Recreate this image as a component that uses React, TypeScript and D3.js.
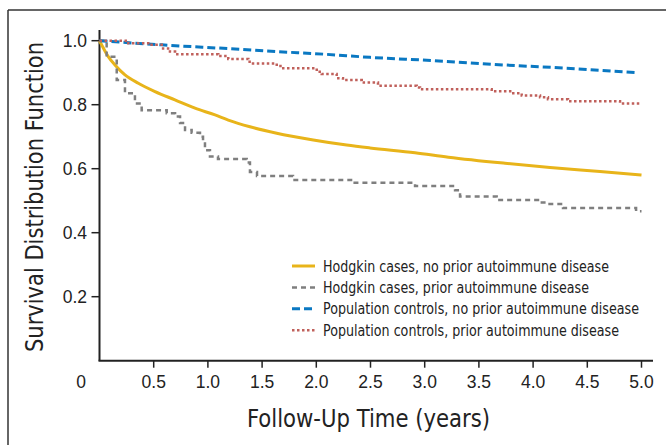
import React from "react";
import * as d3 from "d3";

// ---- Data ----
const yTicks = [0.2, 0.4, 0.6, 0.8, 1.0];
const xTicks = [0.5, 1.0, 1.5, 2.0, 2.5, 3.0, 3.5, 4.0, 4.5, 5.0];

// Hodgkin cases, no prior autoimmune disease (solid gold)
const hodgkinNoPriorT = [0, 0.02, 0.081, 0.143, 0.235, 0.358, 0.512, 0.696, 0.881, 1.066, 1.188, 1.388, 1.635, 1.972, 2.28, 2.495, 2.911, 3.218, 3.741, 4.156, 4.617, 5.0];
const hodgkinNoPriorS = [1.0, 0.987, 0.95, 0.924, 0.893, 0.867, 0.841, 0.815, 0.789, 0.768, 0.752, 0.731, 0.711, 0.69, 0.674, 0.665, 0.65, 0.636, 0.617, 0.604, 0.591, 0.58];

// Hodgkin cases, prior autoimmune disease (gray dashed)
const hodgkinPriorT = [0, 0.066, 0.159, 0.235, 0.327, 0.389, 0.62, 0.697, 0.743, 0.789, 0.85, 0.927, 0.955, 0.973, 1.019, 1.093, 1.358, 1.388, 1.453, 1.785, 2.339, 2.911, 3.28, 3.326, 3.664, 4.045, 4.128, 4.276, 4.95, 5.0];
const hodgkinPriorS = [1.0, 0.95, 0.877, 0.836, 0.804, 0.783, 0.773, 0.763, 0.743, 0.721, 0.712, 0.70, 0.684, 0.658, 0.638, 0.63, 0.619, 0.59, 0.577, 0.565, 0.556, 0.546, 0.533, 0.513, 0.502, 0.494, 0.49, 0.477, 0.467, 0.467];

// Population controls, no prior autoimmune disease (blue dashed)
const controlsNoPriorT = [0, 0.574, 1.25, 1.635, 2.065, 2.495, 3.065, 3.741, 4.31, 4.956];
const controlsNoPriorS = [1.0, 0.987, 0.974, 0.966, 0.958, 0.948, 0.938, 0.924, 0.914, 0.9];

// Population controls, prior autoimmune disease (red dotted)
const controlsPriorT = [0, 0.266, 0.45, 0.574, 0.65, 0.697, 1.096, 1.188, 1.373, 1.416, 1.635, 1.681, 2.004, 2.05, 2.188, 2.246, 2.419, 2.569, 2.926, 2.957, 3.618, 3.803, 3.895, 4.064, 4.137, 4.322, 4.802, 4.986];
const controlsPriorS = [1.0, 0.992, 0.987, 0.976, 0.966, 0.958, 0.952, 0.943, 0.934, 0.929, 0.921, 0.914, 0.903, 0.896, 0.883, 0.877, 0.869, 0.859, 0.854, 0.848, 0.842, 0.836, 0.829, 0.823, 0.817, 0.811, 0.804, 0.804];

const legendLabels = [
  "Hodgkin cases, no prior autoimmune disease",
  "Hodgkin cases, prior autoimmune disease",
  "Population controls, no prior autoimmune disease",
  "Population controls, prior autoimmune disease",
];
const legendTextLengths = [286, 266, 316, 296];

const W = 666;
const H = 445;
const narrow = "'Liberation Sans Narrow', 'DejaVu Sans Condensed', 'Arial Narrow', sans-serif";
const normal = "'Liberation Sans', Arial, Helvetica, sans-serif";

export default function App() {
  const x = d3.scaleLinear().domain([0, 5]).range([99.5, 641.5]);
  const y = d3.scaleLinear().domain([0, 1]).range([360.7, 40.7]);

  const series = [
    { t: hodgkinNoPriorT, s: hodgkinNoPriorS, color: "#E8B41A", width: 3, dash: "", step: false },
    { t: hodgkinPriorT, s: hodgkinPriorS, color: "#7F7F7F", width: 2.5, dash: "5,4", step: true },
    { t: controlsNoPriorT, s: controlsNoPriorS, color: "#0A78C2", width: 3, dash: "8,4", step: false },
    { t: controlsPriorT, s: controlsPriorS, color: "#C0605B", width: 2.5, dash: "2.5,2.5", step: true },
  ];

  const mkLine = (step: boolean) =>
    d3
      .line<[number, number]>()
      .x((d) => x(d[0]))
      .y((d) => y(d[1]))
      .curve(step ? d3.curveStepAfter : d3.curveMonotoneX);

  const x0 = x(0);
  const yBase = y(0);

  return (
    <svg width={W} height={H} style={{ display: "block", position: "absolute", left: 0, top: 0 }}>
      <rect x={0} y={0} width={W} height={H} fill="#fff" />
      {/* frame */}
      <line x1={8} y1={10} x2={W} y2={10} stroke="#333" strokeWidth={1.5} />
      <line x1={8} y1={10} x2={8} y2={H} stroke="#333" strokeWidth={1.5} />

      {/* axes */}
      <line x1={x0} y1={30} x2={x0} y2={yBase} stroke="#222" strokeWidth={2} />
      <line x1={x0 - 1} y1={yBase} x2={653} y2={yBase} stroke="#222" strokeWidth={2} />

      {yTicks.map((v) => (
        <g key={"y" + v}>
          <line x1={x0 - 8} x2={x0} y1={y(v)} y2={y(v)} stroke="#222" strokeWidth={1.5} />
          <text x={87} y={y(v) + 6} textAnchor="end" fontFamily={normal} fontSize={17.5} fill="#222">
            {v.toFixed(1)}
          </text>
        </g>
      ))}
      {xTicks.map((v) => (
        <g key={"x" + v}>
          <line x1={x(v)} x2={x(v)} y1={yBase} y2={yBase + 7} stroke="#222" strokeWidth={1.5} />
          <text x={x(v)} y={388} textAnchor="middle" fontFamily={normal} fontSize={17.5} fill="#222">
            {v.toFixed(1)}
          </text>
        </g>
      ))}
      <text x={81} y={388} textAnchor="middle" fontFamily={normal} fontSize={17.5} fill="#222">
        0
      </text>

      {/* axis titles */}
      <text
        transform={`translate(43,197) rotate(-90)`}
        textAnchor="middle"
        fontFamily={narrow}
        fontSize={24}
        fill="#222"
        textLength={310}
        lengthAdjust="spacingAndGlyphs"
      >
        Survival Distribution Function
      </text>
      <text
        x={368.5}
        y={427}
        textAnchor="middle"
        fontFamily={narrow}
        fontSize={24}
        fill="#222"
        textLength={243}
        lengthAdjust="spacingAndGlyphs"
      >
        Follow-Up Time (years)
      </text>

      {/* series */}
      {series.map((sr, i) => {
        const pts: [number, number][] = sr.t.map((t, k) => [t, sr.s[k]]);
        return (
          <path
            key={"s" + i}
            d={mkLine(sr.step)(pts) || ""}
            fill="none"
            stroke={sr.color}
            strokeWidth={sr.width}
            strokeDasharray={sr.dash || undefined}
          />
        );
      })}

      {/* legend */}
      {series.map((sr, i) => {
        const ly = 266 + i * 21.4;
        return (
          <g key={"l" + i}>
            <line x1={292} x2={315} y1={ly} y2={ly} stroke={sr.color} strokeWidth={sr.width} strokeDasharray={sr.dash || undefined} />
            <text
              x={323}
              y={ly + 5.5}
              fontFamily={narrow}
              fontSize={15}
              fill="#222"
              textLength={legendTextLengths[i]}
              lengthAdjust="spacingAndGlyphs"
            >
              {legendLabels[i]}
            </text>
          </g>
        );
      })}
    </svg>
  );
}
